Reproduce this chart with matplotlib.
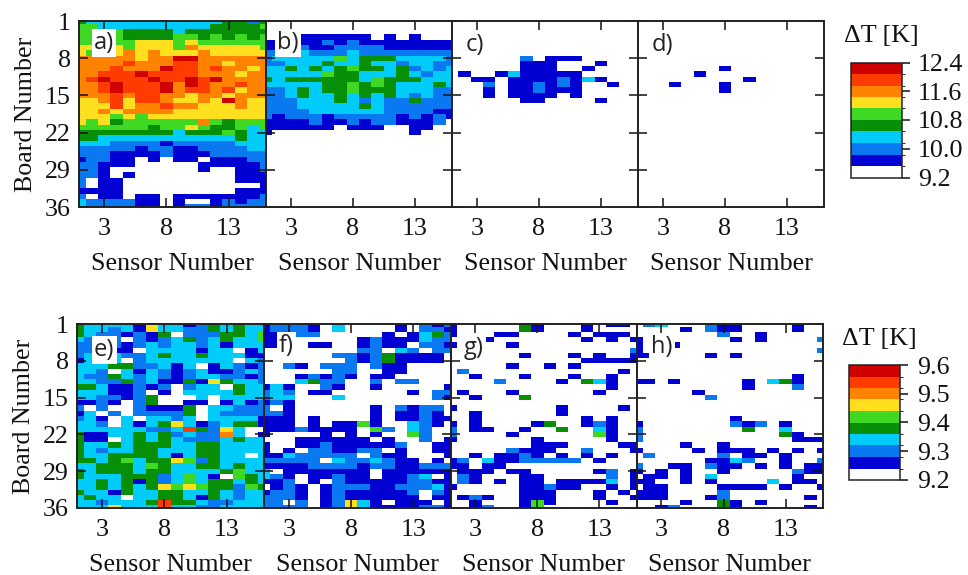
import numpy as np
import matplotlib
matplotlib.use('Agg')
import matplotlib.pyplot as plt
from matplotlib.colors import ListedColormap, BoundaryNorm

W, H = 968, 575
BLANK = "0000000000000000"

# colour band read off each cell, row = board 1..36, column = sensor 1..16
# 0 is the white band (lowest), 9 the dark red band (highest)
panel_a = ["4333333333334424", "5533333333344445", "5555444434444444", "5555444455454545",
           "5555566656555555", "6666566657666665", "6566767666766666", "7777767799777777",
           "7777877788776777", "7778777988787767", "7788898888777677", "7898889889897777",
           "7789888979877877", "7789888978878677", "7778788776776777", "6678688766769766",
           "6668677877666766", "6676777766666666", "6665656666666666", "6564555555754555",
           "5555554556544535", "4444444434445433", "4433333333333433", "3332222122222333",
           "2222212211222233", "2221111211122222", "1221101011011122", "2211100000111112",
           "2210000000100112", "2210100000000111", "2011000000000111", "2011000000000001",
           "1111000000000111", "2011011011111112", "3222211010012122", "3222211012212222"]
panel_b = [BLANK, BLANK, BLANK, "0001111110101000",
           "1111121211111111", "1112112222111111", "2223222322222222", "2333335344433332",
           "2233343343323322", "3343434544342323", "3333354433343233", "4344444435444333",
           "3333344545433343", "2234344544433322", "2234334343432322", "2223334323224222",
           "2223333343222222", "2222333333222211", "2122212222212121", "1111211212211120",
           "1111110111001100", "1000000000001000", BLANK, BLANK,
           BLANK, BLANK, BLANK, BLANK, BLANK, BLANK, BLANK, BLANK, BLANK, BLANK, BLANK, BLANK]
panel_c = [BLANK, BLANK, BLANK, BLANK, BLANK, BLANK, BLANK, "0000002011100000",
           "0000001110001000", "0000001110010000", "0100131111100000", "0011011112131000",
           "0002011212100100", "0001011211100000", "0001011110100000", "0000001100001000",
           BLANK, BLANK, BLANK, BLANK, BLANK, BLANK, BLANK, BLANK,
           BLANK, BLANK, BLANK, BLANK, BLANK, BLANK, BLANK, BLANK, BLANK, BLANK, BLANK, BLANK]
panel_d = [BLANK, BLANK, BLANK, BLANK, BLANK, BLANK, BLANK, BLANK, BLANK,
           "0000000100000000", "0000010000000000", "0000000001000000",
           "0001000100000000", "0000000100000000", BLANK, BLANK,
           BLANK, BLANK, BLANK, BLANK, BLANK, BLANK, BLANK, BLANK,
           BLANK, BLANK, BLANK, BLANK, BLANK, BLANK, BLANK, BLANK, BLANK, BLANK, BLANK, BLANK]
panel_e = ["4333316331243433", "4332316332243433", "4322121402224435", "3222021234234335",
           "2222123233231333", "2221103333133013", "2333223433433311", "1333023333333032",
           "3334422313013212", "3320313212311232", "3224323212332212", "3322423114164332",
           "4431121202330433", "3331120103333433", "3322124000303333", "1121024001101312",
           "2020021114033222", "1302022224032222", "2310303323033331", "3320313463123441",
           "3333332238426300", "4113343423227301", "4110343432223433", "4334344433443333",
           "4323344333443333", "4334444313443303", "4434534465243333", "3344435433443433",
           "4344434433334533", "4333444235310543", "3343414235344343", "3343434656544254",
           "4331433443343233", "3433033443143233", "3323334844322333", "3336333833223333"]
panel_f = ["1222103000010212", "1222103000010221", "1112200000101342", "1100000012111322",
           "1100110012110221", "0000000022032022", "0000002212411110", "0000000212411110",
           "0021022202110000", "0000002200110000", "0001212101100000", "0003422002022000",
           "1310021001000001", "2320110000001022", "2330003000000021", "1210000000000000",
           "2010000001021220", "2210000001011210", "1110100001011211", "1110101151003210",
           "1112111105203200", "1000010101005200", "0001111110100201", "1001121111120011",
           "1010221122010011", "1132222202110001", "2222203223211010", "1111222212211222",
           "3011111110111111", "3210112110112301", "1120102111112211", "0121012221122231",
           "1221012111112021", "2221012111111011", "2202012631011101", "2222012631111221"]
panel_g = ["1000004100010110", "1000004100010000", "1000110000101110", "0001000000010101",
           "1000010000000000", "0000000000000002", "0000001000101001", "0000000000011111",
           "0000010010100000", "0200000000000010", "0010001000100100", "0000200001043100",
           "0000000000000100", "0100010000001000", "0010004000000000", BLANK,
           "1000000001000010", "0010000001000000", "0010000000010100", "1010000140012100",
           "2011001004003100", "2000010000005100", "1000000100000100", "0000000111000011",
           "0000021110020001", "0010112101010100", "1203112222201000", "1101100000000000",
           "0111011000001201", "0210001100000201", "0210101101111301", "1000001121100101",
           "0000001110001010", "0121001110001001", "0010001510000100", "0012001500000000"]
panel_h = ["0230002110000100", "0000102110000100", "0000000200100000", "1000000010100002",
           "1001000000000000", "1000000000000002", "1100001010000000", BLANK,
           BLANK, BLANK, "0000000000000100", "1101000001034100",
           "0000000001000200", "0000010000000000", "0000002000000000", BLANK,
           BLANK, BLANK, "0000000010000000", "1000000021201000",
           "2000000004003000", "2000000000004100", "2000000000000111", "0000100100000000",
           "1000010111010101", "0200000201101000", "0000001132001002", "2001102110101011",
           "1010100100000211", "0110103000000100", "1100101000030110", "0110000111101001",
           "1110000200000000", "1110001200000010", "0000100410100000", "0012000410000010"]

sensors = np.arange(1, 17)
boards = np.arange(1, 37)
sensor_ticks = [3, 8, 13]
board_ticks = [1, 8, 15, 22, 29, 36]
top_ticks = [9.2, 10.0, 10.8, 11.6, 12.4]
bottom_ticks = [9.2, 9.3, 9.4, 9.5, 9.6]
band_colors = ['#ffffff', '#0000d2', '#0a78f0', '#00ccfa', '#078f07',
               '#3fd822', '#ffe01e', '#ff8200', '#ff3c00', '#cf0000']

cmap = ListedColormap(band_colors)
SERIF = 'Liberation Serif'
SANS = 'Open Sans'
FS = 18.7
plt.rcParams['font.family'] = SERIF


def px_axes(fig, left, top, right, bottom):
    return fig.add_axes([left / W, 1 - bottom / H, (right - left) / W, (bottom - top) / H])


def draw_panel(fig, box, rows, lo, hi, label, label_xy, first):
    ax = px_axes(fig, *box)
    # band number back to a temperature in the middle of that band
    step = (hi - lo) / 10
    levels = np.array([[int(c) for c in r] for r in rows])
    dT = lo + (levels + 0.5) * step
    norm = BoundaryNorm(np.linspace(lo, hi, 11), 10)
    mesh = ax.pcolormesh(sensors, boards, dT, cmap=cmap, norm=norm, shading='nearest',
                         linewidth=0, rasterized=True)
    ax.set_xlim(1, 16)
    ax.set_ylim(36, 1)
    ax.set_xticks(sensor_ticks)
    ax.set_yticks(board_ticks)
    ax.tick_params(direction='in', length=6.7, width=1.1, top=True, right=True,
                   labelsize=FS, pad=8, colors='#111111')
    ax.tick_params(axis='y', pad=6)
    ax.set_xlabel('Sensor Number', fontsize=FS, labelpad=9, color='#111111')
    if first:
        ax.set_ylabel('Board Number', fontsize=FS, labelpad=6, color='#111111')
    else:
        ax.tick_params(labelleft=False)
    for s in ax.spines.values():
        s.set_linewidth(1.4)
        s.set_color('#222222')
    fig.text(label_xy[0] / W, 1 - label_xy[1] / H, label, fontsize=17, family=SANS,
             color='#222222', ha='left', va='center', zorder=5,
             bbox=dict(fc='white', ec='none', pad=1.5))
    return mesh


def draw_bar(fig, mesh, box, ticks, fmt, title_xy):
    cax = px_axes(fig, *box)
    cb = fig.colorbar(mesh, cax=cax, ticks=ticks, spacing='proportional', drawedges=False)
    cb.ax.set_yticklabels([fmt % t for t in ticks])
    cb.ax.tick_params(length=6, width=1.1, labelsize=FS, pad=6, colors='#111111')
    cb.outline.set_linewidth(1.1)
    cb.outline.set_edgecolor('#222222')
    fig.text(title_xy[0] / W, 1 - title_xy[1] / H, '\u0394T [K]', fontsize=FS,
             ha='center', va='center', color='#111111')


fig = plt.figure(figsize=(W / 100, H / 100), dpi=100)

top_edges = [79.3, 266, 452, 638, 824]
for i, (rows, lab, xy) in enumerate(zip([panel_a, panel_b, panel_c, panel_d],
                                        ['a)', 'b)', 'c)', 'd)'],
                                        [(94, 43), (277, 43), (466, 45), (652, 45)])):
    m_top = draw_panel(fig, (top_edges[i], 21, top_edges[i + 1], 207), rows,
                       9.2, 12.4, lab, xy, i == 0)

bottom_edges = [77.3, 264, 450.5, 636.5, 823]
for i, (rows, lab, xy) in enumerate(zip([panel_e, panel_f, panel_g, panel_h],
                                        ['e)', 'f)', 'g)', 'h)'],
                                        [(94, 350), (279, 346), (464, 348), (651, 347)])):
    m_bot = draw_panel(fig, (bottom_edges[i], 324, bottom_edges[i + 1], 508), rows,
                       9.2, 9.6, lab, xy, i == 0)

draw_bar(fig, m_top, (851, 62.5, 901.5, 177.5), top_ticks, '%.1f', (881, 36))
draw_bar(fig, m_bot, (849, 365, 900, 480), bottom_ticks, '%.1f', (879, 339))

fig.savefig('out.png', dpi=100)
